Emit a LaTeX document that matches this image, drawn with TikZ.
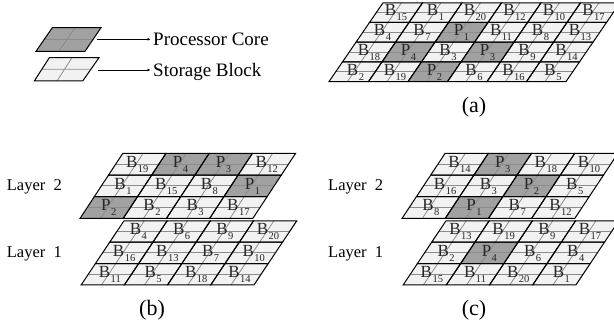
\documentclass[tikz,border=0pt]{standalone}
\usepackage{fontspec}
\setmainfont{Liberation Serif}
\usetikzlibrary{calc,arrows.meta}
\definecolor{tilelight}{gray}{0.95}
\definecolor{tiledark}{gray}{0.63}
\definecolor{midgrey}{gray}{0.55}
\tikzset{
  tileB/.style={fill=tilelight},
  tileP/.style={fill=tiledark},
  tileedge/.style={draw=black,line width=1pt,line join=miter},
  tilemid/.style={draw=midgrey,line width=0.8pt},
  tiletext/.style={inner sep=0pt,anchor=base,text=black!85,font=\fontsize{17}{17}\selectfont},
  legtext/.style={inner sep=0pt,anchor=base west,font=\fontsize{19}{19}\selectfont},
  laytext/.style={inner sep=0pt,anchor=base west,font=\fontsize{16.5}{17}\selectfont},
  captext/.style={inner sep=0pt,anchor=base,font=\fontsize{22}{22}\selectfont},
  legarrow/.style={draw=black,line width=0.8pt,-{Latex[length=3pt,width=3pt]},shorten >=2.5pt}
}
% #1 x of top-left, #2 y of top, #3 cell width, #4 cell height, #5 skew per row, #6 rows
\newcommand{\tilegrid}[6]{%
  \foreach \row [count=\r from 0] in {#6}{%
    \foreach \k/\n [count=\c from 0] in \row{%
      \pgfmathsetmacro{\xa}{#1+\c*#3-\r*#5}
      \pgfmathsetmacro{\ya}{#2+\r*#4}
      \pgfmathsetmacro{\yb}{\ya+#4}
      \pgfmathsetmacro{\xb}{\xa+#3}
      \pgfmathsetmacro{\xc}{\xa-#5}
      \pgfmathsetmacro{\xd}{\xb-#5}
      \path[tile\k] (\xa,\ya) -- (\xb,\ya) -- (\xd,\yb) -- (\xc,\yb) -- cycle;
      \draw[tilemid] ({(\xa+\xc)/2},{(\ya+\yb)/2}) -- ({(\xb+\xd)/2},{(\ya+\yb)/2});
      \draw[tilemid] ({(\xa+\xb)/2-1.3},\ya) -- ({(\xc+\xd)/2-1.3},\yb);
    }%
  }%
  \foreach \row [count=\r from 0] in {#6}{%
    \foreach \k/\n [count=\c from 0] in \row{%
      \pgfmathsetmacro{\xa}{#1+\c*#3-\r*#5}
      \pgfmathsetmacro{\ya}{#2+\r*#4}
      \pgfmathsetmacro{\yb}{\ya+#4}
      \pgfmathsetmacro{\xb}{\xa+#3}
      \pgfmathsetmacro{\xc}{\xa-#5}
      \pgfmathsetmacro{\xd}{\xb-#5}
      \draw[tileedge] (\xa,\ya) -- (\xb,\ya) -- (\xd,\yb) -- (\xc,\yb) -- cycle;
      \node[tiletext] (cell-#1-#2-\r-\c) at ({(\xa+\xd)/2},{(\ya+\yb)/2+3.3}) {\k\kern0.5pt\raisebox{-5pt}{\fontsize{10.5}{11}\selectfont\n}};
    }%
  }%
}
\begin{document}
\begin{tikzpicture}[x=1pt,y=-1pt]
\useasboundingbox (0,0) rectangle (614,331);
\clip (0,0) rectangle (614,331);
% legend swatches
\path[tileP] (52.3,27.7) -- (101,27.7) -- (85,51.3) -- (36,51.3) -- cycle;
\draw[tilemid] (44.2,39.5) -- (93,39.5) (75,27.7) -- (59,51.3);
\draw[tileedge] (52.3,27.7) -- (101,27.7) -- (85,51.3) -- (36,51.3) -- cycle;
\path[tileB] (49.3,57.7) -- (99,57.7) -- (82.7,81) -- (34.3,81) -- cycle;
\draw[tilemid] (41.8,69.3) -- (90.8,69.3) (72,57.7) -- (57,81);
\draw[tileedge] (49.3,57.7) -- (99,57.7) -- (82.7,81) -- (34.3,81) -- cycle;
\coordinate (procfrom) at (97,39.3);
\coordinate (storefrom) at (97.7,70);
\node[legtext] (proctext) at (153,46) {Processor Core};
\node[legtext] (storetext) at (153,76.5) {Storage Block};
\draw[legarrow] (procfrom) -- (procfrom -| proctext.west);
\draw[legarrow] (storefrom) -- (storefrom -| storetext.west);
% (a)
\tilegrid{383}{2.8}{39.5}{19.7}{13.5}{
  {B/15,B/1,B/20,B/12,B/10,B/17},
  {B/4,B/7,P/1,B/11,B/8,B/13},
  {B/18,P/4,B/3,P/3,B/9,B/14},
  {B/2,B/19,P/2,B/6,B/16,B/5}}
\node[captext] (capa) at (474,113) {(a)};
% (b)
\tilegrid{122.7}{153.5}{43.2}{21.6}{14.2}{
  {B/19,P/4,P/3,B/12},
  {B/1,B/15,B/8,P/1},
  {P/2,B/2,B/3,B/17}}
\tilegrid{124}{220.8}{43.2}{21.4}{14.3}{
  {B/4,B/6,B/9,B/20},
  {B/16,B/13,B/7,B/10},
  {B/11,B/5,B/18,B/14}}
\node[laytext] (blay2) at (6.7,191) {Layer\ \ 2};
\node[laytext] (blay1) at (6.7,258) {Layer\ \ 1};
\node[captext] (capb) at (152,316) {(b)};
% (c)
\tilegrid{445}{153.5}{43.2}{21.6}{14.3}{
  {B/14,P/3,B/18,B/10},
  {B/16,B/3,P/2,B/5},
  {B/8,P/1,B/7,B/12}}
\tilegrid{446}{220.8}{43.2}{21.4}{14.3}{
  {B/13,B/19,B/9,B/17},
  {B/2,P/4,B/6,B/4},
  {B/15,B/11,B/20,B/1}}
\node[laytext] (clay2) at (328,191) {Layer\ \ 2};
\node[laytext] (clay1) at (328,258) {Layer\ \ 1};
\node[captext] (capc) at (474,316) {(c)};
\end{tikzpicture}
\end{document}
